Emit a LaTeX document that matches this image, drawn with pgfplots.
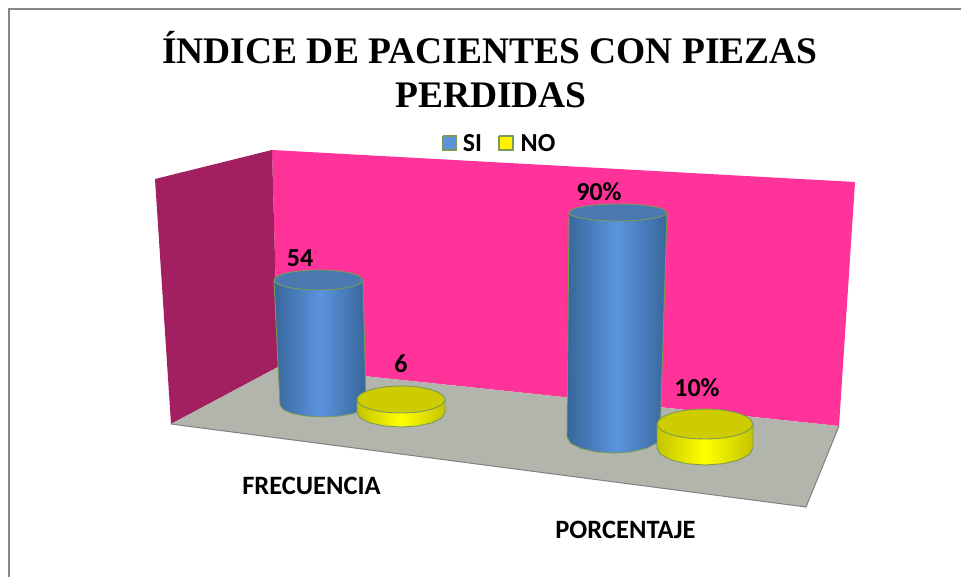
\documentclass[border=0pt]{standalone}
\usepackage{pgfplots}
\pgfplotsset{compat=1.18}
\usepackage{fontspec}
\setmainfont{Liberation Serif}
\newfontfamily\calb{Carlito}
\definecolor{wall}{HTML}{FF3399}
\definecolor{side}{HTML}{A32060}
\definecolor{floorc}{HTML}{B2B5AC}
\definecolor{bl}{HTML}{5B94DE}
\definecolor{bd}{HTML}{37669A}
\definecolor{bt}{HTML}{4A78B0}
\definecolor{yd}{HTML}{C4C400}
\definecolor{yt}{HTML}{CCCC00}
\definecolor{edge}{HTML}{7A9A5A}
\begin{document}
\begin{tikzpicture}
\begin{axis}[scale only axis,width=961bp,height=577bp,xmin=0,xmax=961,ymin=0,ymax=577,y dir=reverse,
  axis lines=none,clip=true,
  every node/.append style={inner sep=0pt}]
% frame
\addplot[draw=none,fill=white,forget plot] coordinates {(0,0)(961,0)(961,577)(0,577)(0,0)};
\addplot[draw=black!47,line width=2bp] coordinates {(9,577)(9,9)(961,9)};
% walls and floor
\addplot[draw=none,fill=wall] coordinates {(272,150)(855,182)(839,426)(278,367)(272,150)};
\addplot[draw=none,fill=side] coordinates {(155,179)(272,150)(278,367)(171,424)(155,179)};
\addplot[draw=none,fill=floorc] coordinates {(171,424)(278,367)(839,426)(806,507)(171,424)};
\addplot[draw=black!50,line width=1bp] coordinates {(171,424)(806,507)(839,426)};
% cylinder SI, FRECUENCIA = 54
\addplot[draw=edge,line width=0.9bp,left color=bd,right color=bd,middle color=bl] coordinates {(274,280)(280,405)(283.3,409.6)(292.6,413.5)(306.5,416)(323,417)(339.5,416)(353.4,413.5)(362.7,409.6)(366,405)(363,280)(274,280)};
\addplot[draw=edge,line width=0.9bp,fill=bt,smooth] coordinates {(363,280)(359.6,276.2)(350,272.9)(335.5,270.8)(318.5,270)(301.5,270.8)(287,272.9)(277.4,276.2)(274,280)(277.4,283.8)(287,287.1)(301.5,289.2)(318.5,290)(335.5,289.2)(350,287.1)(359.6,283.8)(363,280)};
% cylinder NO, FRECUENCIA = 6
\addplot[draw=edge,line width=0.9bp,left color=yd,right color=yd,middle color=yellow] coordinates {(357,399.5)(357,412.5)(360.3,418)(369.9,422.8)(384.1,425.9)(401,427)(417.9,425.9)(432.1,422.8)(441.7,418)(445,412.5)(445,399.5)(357,399.5)};
\addplot[draw=edge,line width=0.9bp,fill=yt,smooth] coordinates {(445,399.5)(441.7,394.3)(432.1,390)(417.9,387)(401,386)(384.1,387)(369.9,390)(360.3,394.3)(357,399.5)(360.3,404.7)(369.9,409)(384.1,412)(401,413)(417.9,412)(432.1,409)(441.7,404.7)(445,399.5)};
% cylinder SI, PORCENTAJE = 90
\addplot[draw=edge,line width=0.9bp,left color=bd,right color=bd,middle color=bl] coordinates {(569,212.5)(567,437)(570.5,443.1)(580.6,448.3)(595.7,451.8)(613.5,453)(631.3,451.8)(646.4,448.3)(656.5,443.1)(660,437)(667,212.5)(569,212.5)};
\addplot[draw=edge,line width=0.9bp,fill=bt,smooth] coordinates {(667,212.5)(663.3,209.2)(652.6,206.5)(636.8,204.6)(618,204)(599.2,204.6)(583.4,206.5)(572.7,209.2)(569,212.5)(572.7,215.8)(583.4,218.5)(599.2,220.4)(618,221)(636.8,220.4)(652.6,218.5)(663.3,215.8)(667,212.5)};
% cylinder NO, PORCENTAJE = 10
\addplot[draw=edge,line width=0.9bp,left color=yd,right color=yd,middle color=yellow] coordinates {(657,424)(657,448)(660.7,454.5)(671.1,460)(686.6,463.7)(705,465)(723.4,463.7)(738.9,460)(749.3,454.5)(753,448)(753,424)(657,424)};
\addplot[draw=edge,line width=0.9bp,fill=yt,smooth] coordinates {(753,424)(749.3,418.3)(738.9,413.4)(723.4,410.1)(705,409)(686.6,410.1)(671.1,413.4)(660.7,418.3)(657,424)(660.7,429.7)(671.1,434.6)(686.6,437.9)(705,439)(723.4,437.9)(738.9,434.6)(749.3,429.7)(753,424)};
% legend swatches
\addplot[draw=edge,line width=1.6bp,fill=bl] coordinates {(443,136)(456,136)(456,150)(443,150)(443,136)};
\addplot[draw=edge,line width=1.6bp,fill=yellow] coordinates {(499,136)(513,136)(513,150)(499,150)(499,136)};
% text
\node[anchor=base,font=\fontsize{37.5bp}{37.5bp}\selectfont\bfseries] at (axis cs:490,64) {ÍNDICE DE PACIENTES CON PIEZAS};
\node[anchor=base,font=\fontsize{37.5bp}{37.5bp}\selectfont\bfseries] at (axis cs:491,107) {PERDIDAS};
\node[font=\fontsize{26bp}{26bp}\selectfont\calb\bfseries] at (axis cs:472.5,143) {SI};
\node[font=\fontsize{26bp}{26bp}\selectfont\calb\bfseries] at (axis cs:538,143) {NO};
\node[font=\fontsize{26bp}{26bp}\selectfont\calb\bfseries] at (axis cs:300,258) {54};
\node[font=\fontsize{26bp}{26bp}\selectfont\calb\bfseries] at (axis cs:401,364) {6};
\node[font=\fontsize{26bp}{26bp}\selectfont\calb\bfseries] at (axis cs:599,192) {90\%};
\node[font=\fontsize{26bp}{26bp}\selectfont\calb\bfseries] at (axis cs:697,388) {10\%};
\node[font=\fontsize{26.5bp}{26.5bp}\selectfont\calb\bfseries] at (axis cs:311.5,486) {FRECUENCIA};
\node[font=\fontsize{26.5bp}{26.5bp}\selectfont\calb\bfseries] at (axis cs:625.5,530) {PORCENTAJE};
\end{axis}
\end{tikzpicture}
\end{document}
